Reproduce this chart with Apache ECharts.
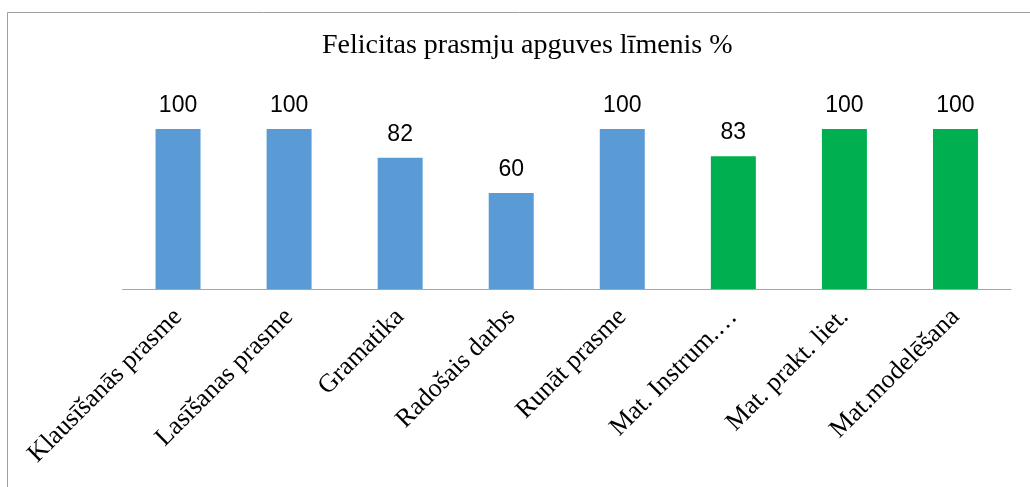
<!DOCTYPE html>
<html>
<head>
<meta charset="utf-8">
<script src="https://cdn.jsdelivr.net/npm/echarts@6/dist/echarts.min.js"></script>
<style>html,body{margin:0;padding:0;background:#fff;}#c{width:1030px;height:487px;}</style>
</head>
<body>
<div id="c"></div>
<script>
const categories = ["Klausīšanās prasme","Lasīšanas prasme","Gramatika","Radošais darbs","Runāt prasme","Mat. Instrum.…","Mat. prakt. liet.","Mat.modelēšana"];
const values = [100,100,82,60,100,83,100,100];
const barColors = ["#5B9BD5","#5B9BD5","#5B9BD5","#5B9BD5","#5B9BD5","#00B050","#00B050","#00B050"];
const titleText = "Felicitas prasmju apguves līmenis %";

const chart = echarts.init(document.getElementById('c'), null, {renderer:'canvas'});
chart.setOption({
  backgroundColor: '#fff',
  animation: false,
  title: {
    text: titleText, left: 322, top: 32, padding: 0,
    textStyle: {fontFamily: 'Liberation Serif', fontSize: 28, fontWeight: 'normal', color: '#000'}
  },
  graphic: [{
    type: 'rect', shape: {x: 7.5, y: 12.5, width: 1200, height: 700},
    style: {fill: 'none', stroke: '#a0a0a0', lineWidth: 1}
  }],
  grid: {left: 122.5, right: 19, top: 129, bottom: 198, containLabel: false},
  xAxis: {
    type: 'category', data: categories,
    axisTick: {show: false},
    axisLine: {lineStyle: {color: '#a6a6a6', width: 1}},
    axisLabel: {interval: 0, rotate: 45, margin: 24, fontFamily: 'Liberation Serif', fontSize: 26, color: '#000'}
  },
  yAxis: {type: 'value', min: 0, max: 100, show: false, splitLine: {show: false}},
  series: [{
    type: 'bar', barWidth: 45,
    data: values.map((v, i) => ({value: v, itemStyle: {color: barColors[i]}})),
    label: {show: true, position: 'top', distance: 12, fontFamily: 'Liberation Sans', fontSize: 23, color: '#000'}
  }]
});
</script>
</body>
</html>
